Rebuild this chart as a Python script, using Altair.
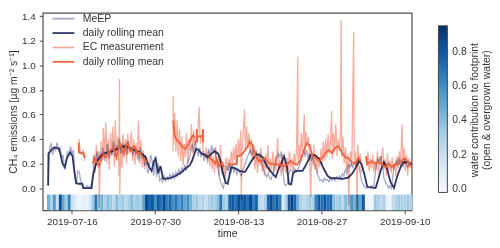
import altair as alt
import pandas as pd

START = pd.Timestamp("2019-07-11")

series_keys = ["MeEP", "daily rolling mean", "EC measurement", "daily rolling mean (EC)"]
series_colors = ["#a6a9c6", "#2c3568", "#f6ad9d", "#f0623c"]

# MeEP raw, read every 6 h starting at day 1.0 (days after 2019-07-11)
meep_start = 1.0
meep_step = 0.25
meep_values = [
    0.02, 0.33, 0.36, 0.27, 0.34, 0.30, 0.37, 0.31, 0.33, 0.24, 0.27, 0.15,
    0.22, 0.30, 0.26, 0.34, 0.28, 0.31, 0.10, 0.03, 0.14, 0.13, 0.05, 0.04,
    0.01, 0.0, 0.02, 0.01, 0.0, 0.03, 0.10, 0.26, 0.22, 0.30, 0.21, 0.28,
    0.25, 0.33, 0.22, 0.30, 0.36, 0.24, 0.31, 0.27, 0.38, 0.26, 0.35, 0.29,
    0.40, 0.28, 0.37, 0.31, 0.36, 0.27, 0.38, 0.30, 0.34, 0.26, 0.35, 0.28,
    0.30, 0.22, 0.33, 0.25, 0.27, 0.18, 0.22, 0.12, 0.16, 0.27, 0.22, 0.10,
    0.26, 0.09, 0.20, 0.06, 0.08, 0.05, 0.10, 0.06, 0.09, 0.07, 0.11, 0.08,
    0.12, 0.08, 0.13, 0.10, 0.15, 0.11, 0.17, 0.13, 0.19, 0.14, 0.21, 0.24,
    0.30, 0.36, 0.29, 0.38, 0.31, 0.26, 0.33, 0.25, 0.30, 0.22, 0.27, 0.24,
    0.32, 0.26, 0.35, 0.28, 0.33, 0.25, 0.20, 0.10, 0.05, 0.02, 0.0, 0.08,
    0.18, 0.14, 0.20, 0.12, 0.19, 0.13, 0.16, 0.11, 0.15, 0.12, 0.10, 0.14,
    0.18, 0.21, 0.25, 0.28, 0.31, 0.26, 0.33, 0.28, 0.30, 0.25, 0.28, 0.21,
    0.20, 0.14, 0.12, 0.09, 0.12, 0.08, 0.07, 0.11, 0.16, 0.20, 0.26, 0.28,
    0.25, 0.30, 0.14, 0.03, 0.02, 0.04, 0.12, 0.15, 0.14, 0.12, 0.16, 0.13,
    0.15, 0.18, 0.22, 0.27, 0.30, 0.26, 0.31, 0.24, 0.28, 0.22, 0.26, 0.20,
    0.18, 0.12, 0.09, 0.06, 0.07, 0.05, 0.08, 0.06, 0.07, 0.05, 0.09, 0.06,
    0.08, 0.06, 0.09, 0.07, 0.10, 0.07, 0.12, 0.10, 0.15, 0.12, 0.19, 0.17,
    0.20, 0.16, 0.22, 0.18, 0.24, 0.19, 0.12, 0.06, 0.03, 0.01, 0.0, 0.0,
    0.01, 0.0, 0.02, 0.0, 0.10, 0.20, 0.24, 0.21, 0.26, 0.18, 0.08, 0.05,
    0.03, 0.0, 0.02, 0.0, 0.10, 0.18, 0.22, 0.19, 0.24, 0.20, 0.23, 0.18,
    0.22, 0.19, 0.17, 0.20, 0.18,
]

# MeEP daily rolling mean
navy_days = [
    1.0, 1.05, 1.7, 2.2, 2.8, 3.05, 3.4, 3.8, 4.2, 4.7, 5.1, 5.4, 5.7, 6.1,
    6.7, 6.9, 8.3, 8.6, 9.2, 9.7, 10.3, 11.0, 11.8, 12.6, 13.2, 13.7, 14.6,
    15.4, 16.1, 16.9, 17.4, 18.0, 18.4, 18.8, 19.1, 19.5, 19.9, 20.3, 20.7,
    21.5, 22.5, 23.5, 24.0, 24.8, 25.2, 25.9, 26.3, 26.8, 27.4, 27.9, 28.5,
    29.0, 29.6, 30.0, 30.4, 30.9, 31.2, 31.8, 32.5, 33.2, 34.1, 34.6, 35.2,
    36.0, 36.6, 37.1, 37.9, 38.8, 39.3, 39.9, 40.2, 40.7, 41.2, 41.5, 41.9,
    42.2, 42.7, 43.8, 44.4, 45.2, 45.7, 46.1, 46.6, 47.4, 48.0, 48.5, 49.5,
    50.5, 51.5, 52.2, 52.8, 53.3, 53.7, 54.2, 54.7, 56.1, 56.6, 57.0, 57.5,
    57.9, 58.6, 59.2, 59.7, 60.3, 60.8, 61.6, 62.2,
]
navy_values = [
    0.02, 0.28, 0.32, 0.33, 0.32, 0.28, 0.20, 0.17, 0.25, 0.29, 0.26, 0.14,
    0.04, 0.035, 0.035, 0.0, 0.0, 0.115, 0.22, 0.25, 0.28, 0.29, 0.30, 0.32,
    0.33, 0.34, 0.33, 0.31, 0.30, 0.275, 0.25, 0.17, 0.14, 0.22, 0.24, 0.12,
    0.18, 0.08, 0.075, 0.08, 0.10, 0.13, 0.155, 0.185, 0.22, 0.32, 0.31,
    0.28, 0.27, 0.25, 0.28, 0.30, 0.28, 0.22, 0.12, 0.04, 0.035, 0.17, 0.16,
    0.14, 0.13, 0.17, 0.22, 0.275, 0.27, 0.25, 0.17, 0.115, 0.09, 0.17,
    0.195, 0.26, 0.17, 0.035, 0.03, 0.12, 0.14, 0.14, 0.19, 0.27, 0.27, 0.26,
    0.24, 0.155, 0.10, 0.08, 0.08, 0.075, 0.085, 0.12, 0.17, 0.22, 0.20,
    0.115, 0.01, 0.0, 0.08, 0.15, 0.21, 0.18, 0.05, 0.0, 0.09, 0.17, 0.21,
    0.21, 0.19,
]

# EC measurement (raw)
ec_days = [
    6.15, 6.4, 6.65, 6.9, 7.15,
    8.5, 8.7, 8.9, 9.1, 9.3, 9.5, 9.6, 9.7, 9.9, 10.1, 10.3, 10.5, 10.7, 10.9,
    11.1, 11.3, 11.5, 11.7, 11.9, 12.1, 12.3, 12.5, 12.7, 12.9, 13.0, 13.05,
    13.2, 13.4, 13.6, 13.8, 14.0, 14.2, 14.4, 14.6, 14.8, 15.0, 15.2, 15.4,
    15.6, 15.8, 16.0, 16.2, 16.4, 16.6, 16.8, 17.0, 17.2, 17.4, 17.6,
    22.0, 22.05, 22.1, 22.3, 22.5, 22.7, 22.9, 23.1, 23.3, 23.5, 23.7, 23.9,
    24.1, 24.3, 24.5, 24.7, 24.9, 25.1, 25.3, 25.5, 25.7, 25.9, 26.1, 26.4,
    26.6, 26.9, 27.1, 27.4, 27.6, 27.8, 28.0, 28.2, 28.4, 28.6, 28.8, 29.0,
    29.2, 29.4, 29.6, 29.8, 30.0, 30.2, 30.4, 30.6, 30.8, 31.0, 31.2, 31.4,
    31.6, 31.8, 32.0, 32.2, 32.4, 32.6, 32.8, 33.0, 33.2, 33.4, 33.5, 33.6,
    33.8, 34.05, 34.2, 34.4, 34.6, 34.8, 35.0, 35.2, 35.4, 35.6, 35.8, 36.0,
    36.2, 36.4, 36.6, 36.8, 37.0, 37.2, 37.4, 37.6, 37.8, 38.0, 38.2, 38.4,
    38.6, 38.8, 39.0, 39.2, 39.4, 39.6, 39.8, 40.0, 40.2, 40.4, 40.6, 40.8,
    41.0, 41.2, 41.4, 41.6, 41.8, 42.0, 42.2, 42.4, 42.6, 42.8, 43.0, 43.05,
    43.2, 43.4, 43.6, 43.8, 44.0, 44.1, 44.2, 44.4, 44.6, 44.8, 45.0, 45.2,
    45.3, 45.5, 45.7, 45.9, 46.1, 46.3, 46.5, 46.7, 46.9, 47.1, 47.3, 47.5,
    47.7, 47.9, 48.1, 48.3, 48.5, 48.7, 48.8, 49.0, 49.2, 49.4, 49.6, 49.8,
    50.0, 50.2, 50.3, 50.4, 50.6, 50.8, 51.0, 51.2, 51.4, 51.6, 51.7, 51.9,
    52.1, 52.4, 52.5, 52.7, 52.9, 53.0, 53.1, 53.3, 53.5, 53.7,
    54.4, 54.6, 54.8, 55.0, 55.2, 55.4, 55.6, 55.8, 56.0, 56.2, 56.4, 56.6,
    56.8, 57.0, 57.3, 57.5, 57.7, 57.9, 58.1, 58.3, 58.5, 58.7, 58.9, 59.1,
    59.3, 59.5, 59.7, 59.9, 60.1, 60.3, 60.55, 60.7, 60.9, 61.1, 61.3, 61.5,
    61.7, 61.9, 62.1,
]
ec_values = [
    0.40, 0.30, 0.27, 0.31, 0.22,
    0.20, 0.28, 0.12, 0.35, 0.18, 0.30, -0.16, 0.10, 0.38, 0.22, 0.49, 0.25,
    0.53, 0.20, 0.40, 0.15, 0.45, 0.26, 0.50, 0.18, 0.55, 0.22, 0.42, 0.10,
    0.89, -0.05, 0.35, 0.16, 0.44, 0.25, 0.40, 0.20, 0.44, 0.28, 0.36, 0.46,
    0.22, 0.40, 0.19, 0.37, 0.24, 0.55, 0.20, 0.39, 0.17, 0.31, 0.15, 0.27,
    0.19,
    0.30, 0.75, 0.35, 0.61, 0.30, 0.55, 0.26, 0.48, 0.22, 0.42, 0.18, 0.36,
    0.25, 0.45, 0.20, 0.40, 0.30, 0.52, 0.28, 0.47, 0.35, 0.42, 0.38, 0.66,
    0.36, 0.44, 0.30, 0.25, 0.33, 0.20, 0.30, 0.18, 0.28, 0.15, 0.26, 0.12,
    0.33, 0.16, 0.24, 0.10, 0.35, 0.12, 0.22, 0.08, 0.19, 0.25, 0.14, 0.24,
    0.17, 0.30, 0.19, 0.33, 0.22, 0.36, 0.18, 0.40, 0.25, 0.47, -0.10, 0.30,
    0.44, 0.64, 0.30, 0.50, 0.32, 0.45, 0.28, 0.40, 0.22, 0.35, 0.15, 0.30,
    0.12, 0.26, 0.18, 0.33, 0.14, 0.25, 0.10, 0.28, 0.16, 0.35, 0.12, 0.24,
    0.15, 0.30, 0.12, 0.26, 0.14, 0.41, 0.16, 0.23, 0.10, 0.28, 0.14, 0.22,
    0.12, 0.25, 0.15, 0.30, 0.16, 0.24, 0.14, 0.28, 0.18, 0.33, 1.07, 0.20,
    0.35, 0.22, 0.45, 0.30, 0.50, 0.60, 0.28, 0.46, 0.34, 0.42, 0.22, -0.07,
    0.30, 0.18, 0.35, 0.15, 0.28, 0.12, 0.25, 0.17, 0.32, 0.20, 0.38, 0.22,
    0.40, 0.25, 0.44, 0.28, 0.36, 0.63, 0.24, 0.45, 0.30, 0.52, 0.26, 0.40,
    0.30, 0.48, 1.37, 0.25, 0.42, 0.20, 0.33, 0.15, 0.28, -0.145, 0.20, 0.30,
    0.18, 1.27, 0.22, 0.30, 0.16, -0.18, 0.35, 0.20, 0.28, 0.12,
    0.25, 0.18, 0.30, 0.14, 0.24, 0.16, 0.27, 0.13, 0.22, 0.15, 0.30, 0.12,
    0.26, 0.18, 0.33, 0.15, 0.24, 0.10, 0.28, 0.14, 0.22, 0.12, 0.25, 0.15,
    0.20, 0.10, 0.26, 0.16, 0.30, 0.18, 0.52, 0.20, 0.33, 0.14, 0.27, 0.10,
    0.24, 0.16, 0.22,
]
ec_breaks = [7.5, 18.0, 54.0]

# EC daily rolling mean
red_days = [
    6.15, 6.2, 6.6, 6.9, 7.2,
    8.5, 8.8, 9.2, 9.6, 10.0, 10.3, 10.7, 11.2, 11.9, 12.5, 13.1, 13.7, 14.3,
    14.9, 15.5, 16.1, 16.5, 16.9, 17.3, 17.65,
    22.05, 22.3, 22.8, 23.3, 23.7, 24.1, 24.6, 25.0, 25.4, 25.6,
    26.0, 26.05, 26.1, 27.0, 27.05, 27.1,
    28.0, 28.6, 29.1, 29.4, 29.8, 30.3, 30.6,
    31.3, 32.0, 32.7, 32.8, 33.5, 34.0, 34.6, 34.9, 35.4, 35.8, 36.4, 36.9,
    37.4, 38.2, 39.0, 39.9, 40.7, 41.3, 41.8, 42.4, 42.9, 43.5, 44.05, 44.5,
    45.0, 45.4, 46.0, 46.6, 47.1, 47.7, 48.2, 48.8, 49.3, 49.9, 50.4, 51.0,
    51.5, 52.1, 52.7, 53.2, 53.6,
    54.5, 54.7, 55.4, 56.0, 56.6, 57.2, 57.8, 58.3, 58.8, 59.3, 60.0, 60.5,
    61.0, 61.6, 62.2,
]
red_values = [
    0.37, 0.29, 0.285, 0.29, 0.245,
    0.20, 0.24, 0.21, 0.18, 0.24, 0.27, 0.25, 0.29, 0.33, 0.25, 0.36, 0.28,
    0.37, 0.30, 0.34, 0.28, 0.29, 0.25, 0.23, 0.21,
    0.55, 0.42, 0.38, 0.36, 0.33, 0.32, 0.36, 0.40, 0.43, 0.41,
    0.48, 0.37, 0.42, 0.42, 0.48, 0.37,
    0.25, 0.23, 0.20, 0.23, 0.18, 0.20, 0.17,
    0.195, 0.19, 0.20, 0.26, 0.27, 0.30, 0.34, 0.38, 0.35, 0.27, 0.22, 0.22,
    0.245, 0.20, 0.195, 0.19, 0.18, 0.195, 0.22, 0.20, 0.19, 0.23, 0.31,
    0.365, 0.35, 0.27, 0.245, 0.22, 0.245, 0.285, 0.31, 0.285, 0.33, 0.34,
    0.29, 0.25, 0.245, 0.21, 0.20, 0.245, 0.22,
    0.26, 0.195, 0.22, 0.20, 0.21, 0.19, 0.17, 0.20, 0.17, 0.19, 0.195, 0.22,
    0.245, 0.21, 0.17,
]
red_breaks = [7.5, 18.0, 25.8, 27.5, 30.9, 54.0]

# water contribution to footprint, half-day cells starting at day 0.8
water_start = 0.8
water_step = 0.5
water_values = [
    0.45, 0.30, 0.55, 0.20, 0.85, 0.50, 0.35, 0.65, 0.20, 0.12, 0.05, 0.03,
    0.08, 0.05, 0.15, 0.35, 0.70, 0.35, 0.45, 0.30, 0.40, 0.35, 0.25, 0.40,
    0.30, 0.35, 0.25, 0.30, 0.40, 0.30, 0.35, 0.30, 0.50, 0.85, 0.75, 0.80,
    0.60, 0.80, 0.70, 0.85, 0.65, 0.75, 0.60, 0.70, 0.55, 0.65, 0.50, 0.60,
    0.45, 0.30, 0.35, 0.25, 0.30, 0.20, 0.30, 0.35, 0.30, 0.40, 0.70, 0.35,
    0.30, 0.75, 0.80, 0.70, 0.85, 0.75, 0.80, 0.70, 0.85, 0.65, 0.75, 0.25,
    0.20, 0.30, 0.75, 0.85, 0.70, 0.80, 0.65, 0.10, 0.30, 0.80, 0.90, 0.75,
    0.45, 0.30, 0.25, 0.30, 0.35, 0.30, 0.65, 0.80, 0.70, 0.80, 0.70, 0.75,
    0.40, 0.30, 0.35, 0.25, 0.40, 0.30, 0.55, 0.45, 0.60, 0.50, 0.80, 0.03,
    0.02, 0.04, 0.35, 0.30, 0.25, 0.30, 0.05, 0.03, 0.25, 0.30, 0.35, 0.30,
    0.30, 0.35, 0.30,
]

y_ticks = [0.0, 0.2, 0.4, 0.6, 0.8, 1.0, 1.2, 1.4]
x_ticks = ["2019-07-16", "2019-07-30", "2019-08-13", "2019-08-27", "2019-09-10"]
cbar_ticks = [0.0, 0.2, 0.4, 0.6, 0.8]
blues = ["#f7fbff", "#deebf7", "#c6dbef", "#9ecae1", "#6baed6",
         "#4292c6", "#2171b5", "#08519c", "#08306b"]
cbar_title = ["water contribution to footprint", "(open & overgrown water)"]


def seg_ids(days, breaks):
    return [sum(1 for b in breaks if d > b) for d in days]


def frame(days, values, series, breaks=()):
    return pd.DataFrame({
        "time": START + pd.to_timedelta(days, unit="D"),
        "value": values,
        "series": series,
        "seg": seg_ids(days, breaks),
    })


meep_days = [meep_start + meep_step * i for i in range(len(meep_values))]
df_meep = frame(meep_days, meep_values, series_keys[0])
df_navy = frame(navy_days, navy_values, series_keys[1])
df_ec = frame(ec_days, ec_values, series_keys[2], ec_breaks)
df_red = frame(red_days, red_values, series_keys[3], red_breaks)

water_days = [water_start + water_step * i for i in range(len(water_values))]
df_water = pd.DataFrame({
    "t": START + pd.to_timedelta(water_days, unit="D"),
    "t2": START + pd.to_timedelta([d + water_step for d in water_days], unit="D"),
    "w": water_values,
})

FONT = "Liberation Sans"
TXT = "#333333"
Y_TITLE = "CH₄ emissions [µg m⁻² s⁻¹]"

x_scale = alt.Scale(domain=[alt.DateTime(year=2019, month=7, date=11, hours=2),
                            alt.DateTime(year=2019, month=9, date=11, hours=4)])
y_scale = alt.Scale(domain=[-0.181, 1.426], nice=False, zero=False)

x_axis = alt.Axis(values=[alt.DateTime(year=2019, month=int(s[5:7]), date=int(s[8:10])) for s in x_ticks],
                  format="%Y-%m-%d", labelFlush=False, grid=False,
                  labelOverlap=False, labelPadding=3, titlePadding=1.5)
y_axis = alt.Axis(values=y_ticks, format=".1f", grid=False, labelOverlap=False,
                  labelPadding=4, titlePadding=3)

x_enc = alt.X("time:T", scale=x_scale, title="time", axis=x_axis)
y_enc = alt.Y("value:Q", scale=y_scale, title=Y_TITLE, axis=y_axis)

stroke_scale = alt.Scale(domain=series_keys, range=series_colors)
line_legend = alt.Legend(
    title=None, orient="none", legendX=14.4, legendY=-0.7,
    labelExpr="replace(datum.label, ' (EC)', '')",
    symbolType="M-2,0H2", symbolSize=121, symbolStrokeWidth=1.8,
    labelOffset=13, rowPadding=2.5, labelFontSize=10.5, labelFont=FONT,
    labelColor=TXT, padding=0,
)


def line_layer(df, width, legend, raw):
    mark_kw = {"strokeWidth": width}
    if raw:
        mark_kw["blend"] = "multiply"
    return alt.Chart(df).mark_line(**mark_kw).encode(
        x=x_enc,
        y=y_enc,
        stroke=alt.Stroke("series:N", scale=stroke_scale, legend=legend),
        detail="seg:N",
    )


cbar_domain = [-0.02 + 0.97 * i / 8 for i in range(9)]

heat = alt.Chart(df_water).mark_rect().encode(
    x=alt.X("t:T", scale=x_scale, title="time", axis=x_axis),
    x2="t2:T",
    y=alt.datum(-0.053, scale=y_scale, axis=y_axis, title=Y_TITLE),
    y2=alt.datum(-0.181),
    fill=alt.Fill("w:Q",
                  scale=alt.Scale(domain=cbar_domain, range=blues),
                  legend=alt.Legend(
                      title=None, orient="none", legendX=399, legendY=13,
                      direction="vertical", gradientLength=168,
                      gradientThickness=9, gradientStrokeColor="#444",
                      gradientStrokeWidth=1, values=cbar_ticks, format=".1f",
                      labelFontSize=10.5, labelFont=FONT, labelColor=TXT,
                      labelOffset=5, padding=0,
                  )),
)

cbar_label = alt.Chart(pd.DataFrame({"k": [0]})).mark_text(
    text=cbar_title, angle=270, fontSize=10.5, font=FONT, color=TXT,
    align="center", baseline="middle", lineHeight=11.5,
).encode(x=alt.value(436), y=alt.value(98))

chart = alt.layer(
    heat,
    line_layer(df_meep, 1.3, line_legend, True),
    line_layer(df_navy, 1.8, line_legend, False),
    line_layer(df_ec, 1.3, line_legend, True),
    line_layer(df_red, 1.8, line_legend, False),
    cbar_label,
).resolve_scale(
    stroke="shared", fill="independent"
).properties(
    width=372, height=199, background="white",
    padding={"left": 0, "top": 2, "right": 0, "bottom": 0},
).configure_view(
    stroke="#4d4d4d", strokeWidth=1.2,
).configure_axis(
    grid=False, domain=False, tickColor="#4d4d4d", tickSize=3.5, tickWidth=1,
    labelFont=FONT, labelFontSize=10, labelColor=TXT,
    titleFont=FONT, titleFontSize=10.5, titleColor=TXT, titleFontWeight="normal",
)

chart.save("out.html", embed_options={"renderer": "svg", "actions": False})
